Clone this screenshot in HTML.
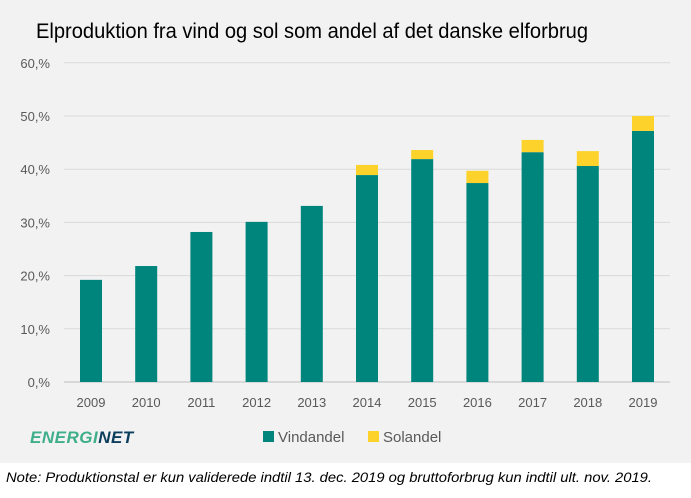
<!DOCTYPE html>
<html><head><meta charset="utf-8"><style>
body{margin:0;width:691px;height:498px;background:#fff;font-family:"Liberation Sans",sans-serif;overflow:hidden}
#bg{position:absolute;left:0;top:0;width:691px;height:463px;background:#f2f2f2}
svg{position:absolute;left:0;top:0}
</style></head><body>
<div id="bg"></div>
<svg width="691" height="498">
<text x="36" y="38" font-size="21" fill="#000" textLength="552" lengthAdjust="spacingAndGlyphs">Elproduktion fra vind og sol som andel af det danske elforbrug</text>
<g id="grid"></g><g id="bars"></g><g id="xl"></g>
<g>
<rect x="263" y="431" width="11" height="11" fill="#00857d"/>
<text x="278" y="442" font-size="15" fill="#595959">Vindandel</text>
<rect x="368" y="431" width="11" height="11" fill="#fdd22b"/>
<text x="383" y="442" font-size="15" fill="#595959">Solandel</text>
</g>
<text x="30" y="443" font-size="17" font-weight="bold" font-style="italic" fill="#3fae8a" letter-spacing="0.5">ENERGI<tspan fill="#0b3d5c">NET</tspan></text>
<text x="6" y="482" font-size="14" font-style="italic" fill="#000" textLength="646" lengthAdjust="spacingAndGlyphs">Note: Produktionstal er kun validerede indtil 13. dec. 2019 og bruttoforbrug kun indtil ult. nov. 2019.</text>
</svg>
<script>
const years=["2009","2010","2011","2012","2013","2014","2015","2016","2017","2018","2019"];
const vind=[19.2,21.8,28.2,30.1,33.1,38.9,41.9,37.4,43.2,40.6,47.2];
const sol=[0,0,0,0,0,1.9,1.7,2.3,2.3,2.8,2.8];
const yTicks=[0,10,20,30,40,50,60];
const NS="http://www.w3.org/2000/svg";
const y=v=>382-v*5.32;
const x=i=>91+i*55.2;
function mk(t,a,p){const e=document.createElementNS(NS,t);for(const k in a)e.setAttribute(k,a[k]);p.appendChild(e);return e;}
const grid=document.getElementById('grid'),bars=document.getElementById('bars'),xl=document.getElementById('xl');
yTicks.forEach(t=>{
 const l=mk('line',{x1:64,x2:670,y1:y(t),y2:y(t),stroke:t==0?'#bfbfbf':'#d9d9d9','stroke-width':1},grid);
 
 
 const tx=mk('text',{x:50,y:y(t)+5,'font-size':13,fill:'#595959','text-anchor':'end'},grid);
 tx.textContent=t+',%';
 
 
});
years.forEach((yr,i)=>{
 const w=22;
 const b=mk('rect',{x:x(i)-w/2,y:y(vind[i]),width:w,height:y(0)-y(vind[i]),fill:'#00857d'},bars);
 
 
 if(sol[i]>0){
  const s=mk('rect',{x:x(i)-w/2,y:y(vind[i]+sol[i]),width:w,height:y(vind[i])-y(vind[i]+sol[i]),fill:'#fdd22b'},bars);
  
  
 }
 const t=mk('text',{x:x(i),y:407,'font-size':13,fill:'#595959','text-anchor':'middle'},xl);
 t.textContent=yr;
 
 
});
</script>
</body></html>
